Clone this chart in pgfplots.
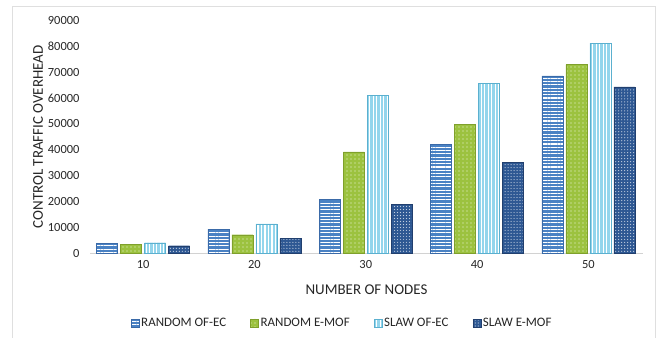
\documentclass[border=0pt]{standalone}
\usepackage{pgfplots}
\pgfplotsset{compat=1.18}
\usepackage{fontspec}
\setmainfont{Carlito}
\usetikzlibrary{patterns.meta}
\definecolor{cA}{HTML}{4A82C4}
\definecolor{cAd}{HTML}{3A6AA8}
\definecolor{cB}{HTML}{9CC23F}
\definecolor{cBd}{HTML}{7FA02C}
\definecolor{cC}{HTML}{93D5EC}
\definecolor{cCd}{HTML}{5BB0CF}
\definecolor{cD}{HTML}{2E5893}
\definecolor{cDd}{HTML}{213F6E}
\begin{document}
\begin{tikzpicture}
\useasboundingbox (0,0) rectangle (660bp,338bp);
\draw[gray!25, line width=1bp] (12.5bp,-5bp) -- (12.5bp,331.5bp) -- (655bp,331.5bp) -- (655bp,-5bp);
\begin{axis}[
  at={(90bp,84.7bp)}, anchor=south west,
  scale only axis, width=553bp, height=233bp,
  xmin=-0.477, xmax=4.49, ymin=0, ymax=90000,
  ybar=3bp, bar width=21bp,
  xtick={0,1,2,3,4}, xticklabels={10,20,30,40,50},
  ytick={0,10000,...,90000},
  scaled y ticks=false,
  yticklabel style={/pgf/number format/fixed, /pgf/number format/set thousands separator={}, /pgf/number format/assume math mode=true, xshift=-7bp},
  axis x line=bottom, axis y line=left,
  x axis line style={gray!35, line width=0.8bp, -},
  y axis line style={draw=none},
  major tick length=0pt,
  tick label style={font=\fontsize{12.5}{14}\selectfont, text=black!85},
  xticklabel style={yshift=-4bp},
  xlabel={NUMBER OF NODES}, ylabel={CONTROL TRAFFIC OVERHEAD},
  label style={font=\fontsize{15}{17}\selectfont, text=black!85},
  xlabel style={at={(axis description cs:0.5,-0.157)}, anchor=center},
  ylabel style={at={(axis description cs:-0.094,0.5)}, anchor=center},
  legend columns=4,
  legend style={draw=none, at={(axis description cs:0.456,-0.299)}, anchor=center,
    font=\fontsize{13}{15}\selectfont, text=black!85,
    /tikz/every even column/.append style={column sep=22bp}},
  legend image code/.code={\draw[#1] (0bp,-4bp) rectangle (8bp,4bp);},
]
\addplot[fill=cA, draw=cAd, postaction={pattern={Lines[angle=0,distance=3.3pt,line width=1.1pt]}, pattern color=white}]
  coordinates {(0,3860) (1,9370) (2,20800) (3,42100) (4,68500)};
\addplot[fill=cB, draw=cBd, postaction={pattern={Dots[distance=4pt,radius=0.55pt]}, pattern color=white!85!cB}]
  coordinates {(0,3590) (1,7180) (2,39200) (3,49700) (4,72900)};
\addplot[fill=cC, draw=cCd, postaction={pattern={Lines[angle=90,distance=3.5pt,line width=1.1pt]}, pattern color=white}]
  coordinates {(0,4090) (1,11400) (2,61000) (3,65600) (4,81200)};
\addplot[fill=cD, draw=cDd, postaction={pattern={Dots[distance=3pt,radius=0.6pt]}, pattern color=white!70!cD}]
  coordinates {(0,2930) (1,5640) (2,19000) (3,35100) (4,64250)};
\legend{RANDOM OF-EC, RANDOM E-MOF, SLAW OF-EC, SLAW E-MOF}
\end{axis}
\end{tikzpicture}
\end{document}
